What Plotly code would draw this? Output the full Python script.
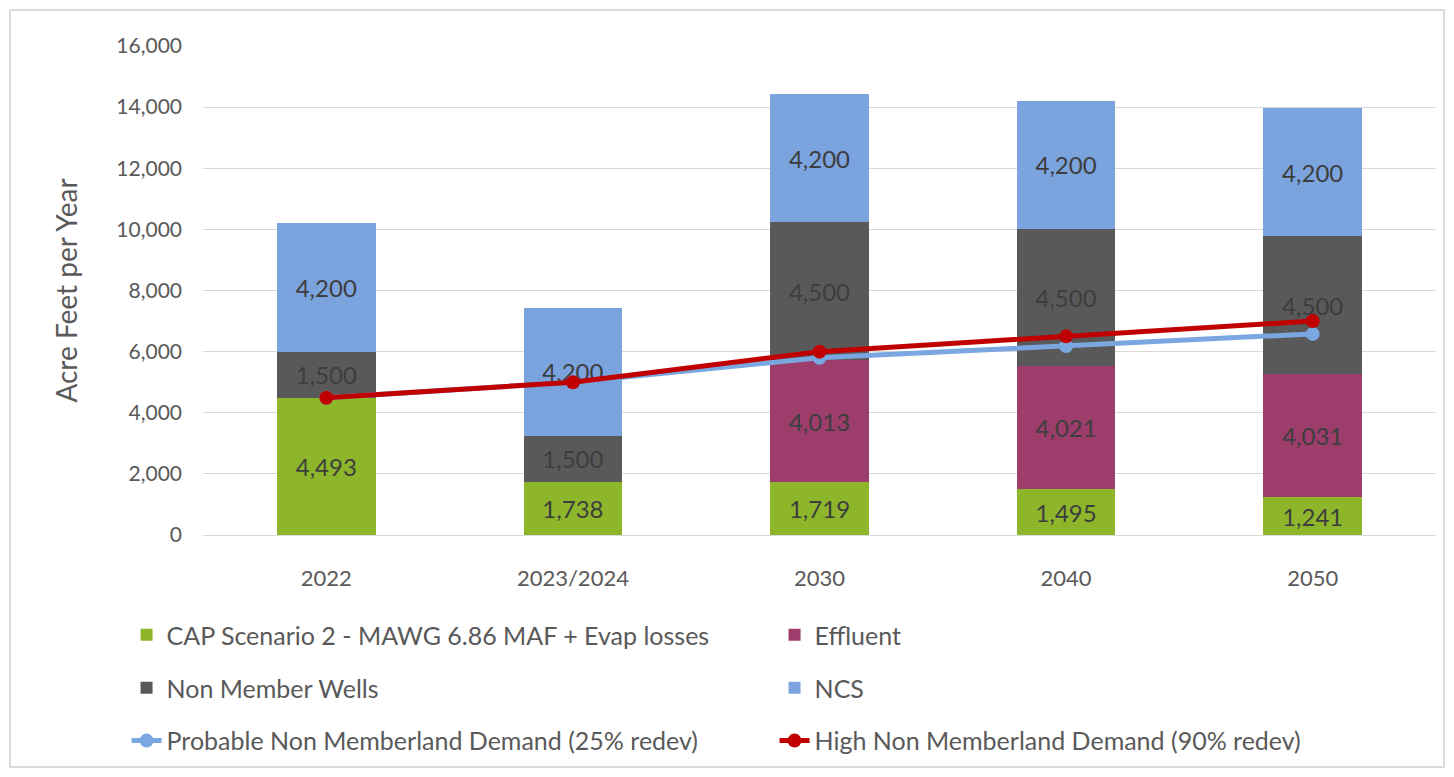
import plotly.graph_objects as go

# Data
years = ["2022", "2023/2024", "2030", "2040", "2050"]
cap_supply = [4493, 1738, 1719, 1495, 1241]
effluent = [None, None, 4013, 4021, 4031]
non_member_wells = [1500, 1500, 4500, 4500, 4500]
ncs = [4200, 4200, 4200, 4200, 4200]
probable_demand = [4493, 5000, 5800, 6180, 6580]
high_demand = [4493, 5000, 6000, 6500, 7000]

FONT = "Lato"
TEXT_COLOR = "#595959"
LABEL_COLOR = "#3d3d3d"

fig = go.Figure()

bar_series = [
    ("CAP Scenario 2 - MAWG 6.86 MAF + Evap losses", cap_supply, "#8DB62B", "legend"),
    ("Effluent", effluent, "#9C3D6B", "legend"),
    ("Non Member Wells", non_member_wells, "#595959", "legend2"),
    ("NCS", ncs, "#7BA3DD", "legend2"),
]
for name, vals, color, leg in bar_series:
    fig.add_trace(go.Bar(
        x=years,
        y=vals,
        name=name,
        marker=dict(color=color, line=dict(width=0)),
        texttemplate="%{y:,}",
        textposition="inside",
        insidetextanchor="middle",
        textangle=0,
        textfont=dict(family=FONT, size=24, color=LABEL_COLOR),
        legend=leg,
    ))

line_series = [
    ("Probable Non Memberland Demand (25% redev)", probable_demand, "#7AA7E0"),
    ("High Non Memberland Demand (90% redev)", high_demand, "#C00000"),
]
for name, vals, color in line_series:
    fig.add_trace(go.Scatter(
        x=years,
        y=vals,
        name=name,
        mode="lines+markers",
        line=dict(color=color, width=5),
        marker=dict(color=color, size=14),
        legend="legend3",
    ))

legend_base = dict(
    orientation="h",
    xanchor="left",
    yanchor="middle",
    x=-0.062,
    traceorder="normal",
    font=dict(family=FONT, size=25, color=TEXT_COLOR),
    entrywidth=603,
    bgcolor="rgba(0,0,0,0)",
    itemclick=False,
)

fig.update_layout(
    barmode="stack",
    bargap=0.6,
    width=1438,
    height=761,
    plot_bgcolor="white",
    paper_bgcolor="white",
    # fixed margins so the legends below the plot don't squeeze it
    margin=dict(l=195, r=10, t=38, b=234, autoexpand=False),
    font=dict(family=FONT, color=TEXT_COLOR),
    legend=dict(legend_base, y=-0.2045),
    legend2=dict(legend_base, y=-0.313),
    legend3=dict(legend_base, y=-0.421),
)

fig.update_yaxes(
    range=[0, 16000],
    dtick=2000,
    tickformat=",",
    showgrid=True,
    gridcolor="#d9d9d9",
    gridwidth=1,
    zeroline=False,
    showline=False,
    ticks="",
    ticklabelstandoff=20,
    tickfont=dict(family=FONT, size=21, color=TEXT_COLOR),
    title=dict(text="Acre Feet per Year", font=dict(family=FONT, size=28, color=TEXT_COLOR), standoff=30),
)
fig.update_xaxes(
    showgrid=False,
    showline=True,
    linecolor="#d9d9d9",
    ticks="",
    ticklabelstandoff=24,
    tickfont=dict(family=FONT, size=22, color=TEXT_COLOR),
)

# light chart border
fig.add_shape(
    type="rect", xref="paper", yref="paper",
    x0=-0.1565, x1=1.0065, y0=-0.4744, y1=1.0736,
    line=dict(color="#d0d0d0", width=1.5),
    fillcolor="rgba(0,0,0,0)",
    layer="below",
)

fig.write_html("out.html")
